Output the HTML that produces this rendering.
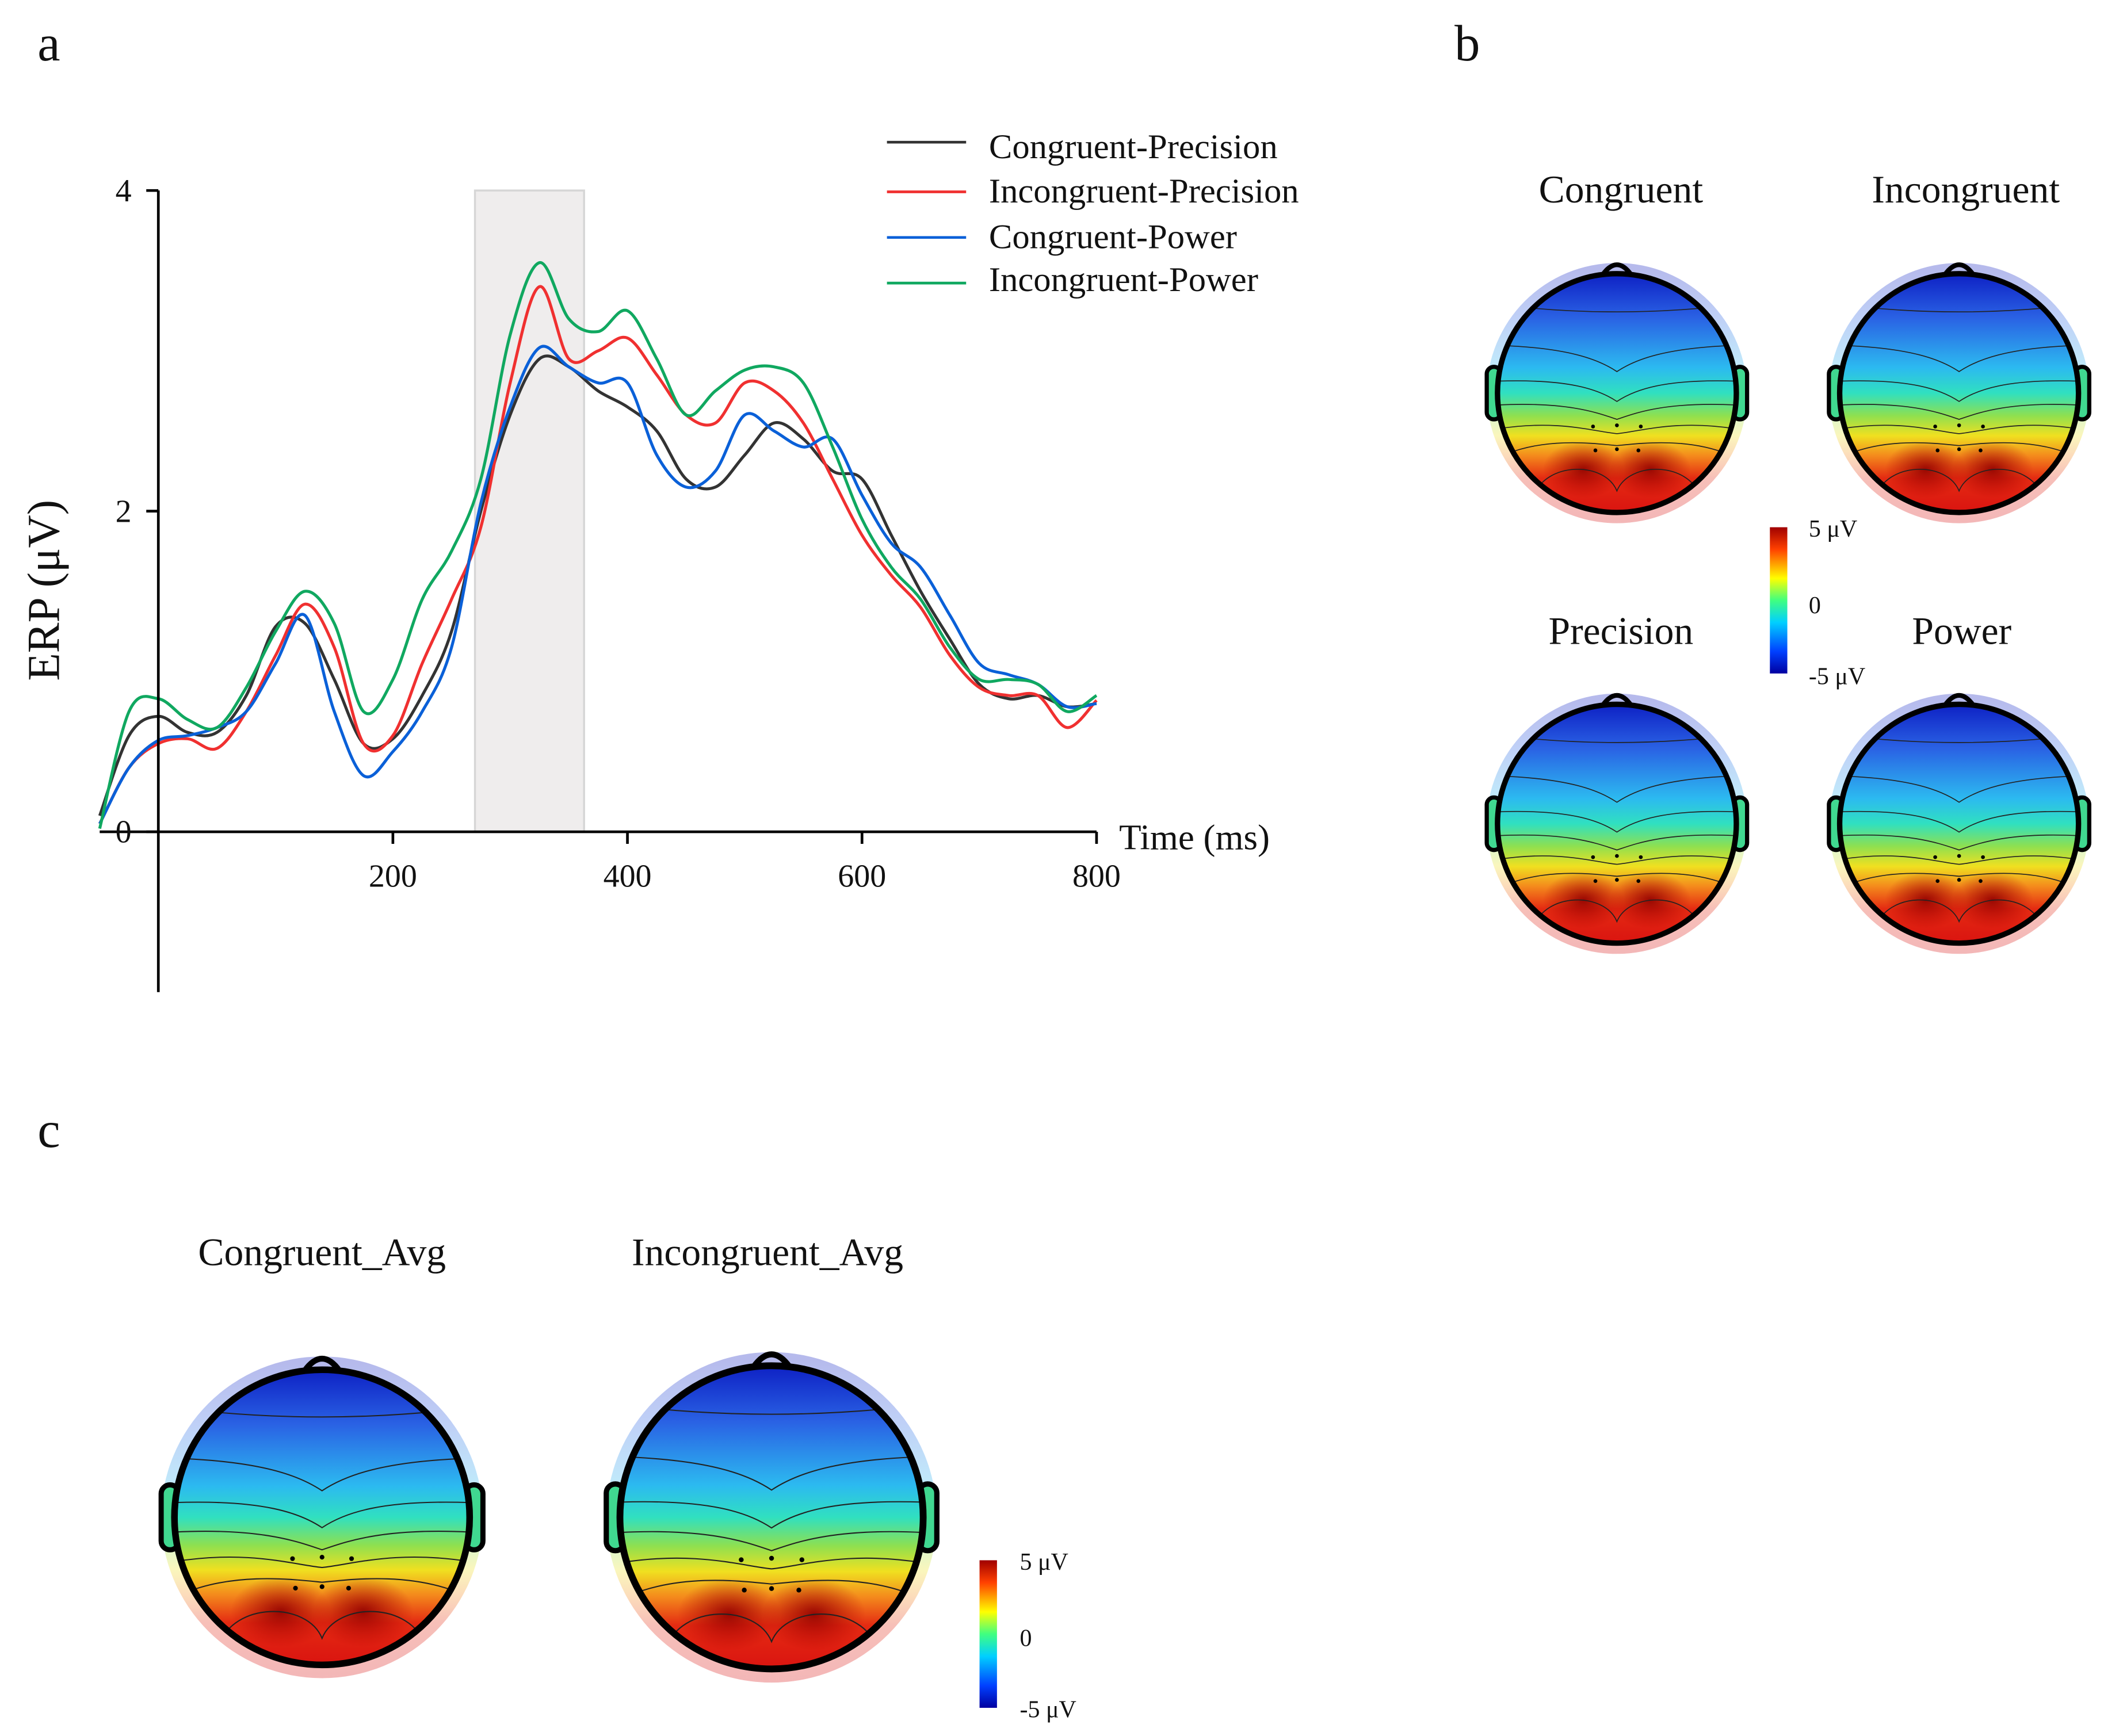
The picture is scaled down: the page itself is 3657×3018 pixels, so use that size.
<!DOCTYPE html>
<html><head><meta charset="utf-8"><style>
html,body{margin:0;padding:0;background:#fff;}
svg{display:block;}
text{font-family:"Liberation Serif",serif;fill:#111;}
</style></head><body>
<svg id="root" width="3657" height="3018" viewBox="0 0 1568 1294" preserveAspectRatio="none" xmlns="http://www.w3.org/2000/svg">
<defs>
<linearGradient id="tg" x1="0" y1="-105" x2="0" y2="105" gradientUnits="userSpaceOnUse">
<stop offset="0" stop-color="#0a18c0"/><stop offset="0.2" stop-color="#2a62e4"/>
<stop offset="0.4" stop-color="#2cbaf0"/><stop offset="0.5" stop-color="#30e0c0"/>
<stop offset="0.59" stop-color="#8ee050"/><stop offset="0.67" stop-color="#f0e020"/>
<stop offset="0.75" stop-color="#f48a1c"/><stop offset="0.84" stop-color="#e42a12"/>
<stop offset="1" stop-color="#d81010"/></linearGradient>
<radialGradient id="halo"><stop offset="0.9" stop-color="#dceefa"/><stop offset="1" stop-color="#eef6fc"/></radialGradient>
<linearGradient id="cb" x1="0" y1="1" x2="0" y2="0">
<stop offset="0" stop-color="#0000a0"/><stop offset="0.15" stop-color="#0040ff"/>
<stop offset="0.35" stop-color="#00d0ff"/><stop offset="0.5" stop-color="#40ff80"/>
<stop offset="0.65" stop-color="#ffff00"/><stop offset="0.85" stop-color="#ff4000"/>
<stop offset="1" stop-color="#a00000"/></linearGradient>
<radialGradient id="blob"><stop offset="0" stop-color="#900000" stop-opacity="0.9"/><stop offset="1" stop-color="#b00000" stop-opacity="0"/></radialGradient>
<clipPath id="hc"><circle cx="0" cy="0" r="100"/></clipPath>
<g id="topo">
<circle cx="0" cy="0" r="109" fill="url(#tg)" opacity="0.3"/>
<path d="M-12,-99 Q0,-116 12,-99" fill="none" stroke="#000" stroke-width="4"/>
<rect x="-109" y="-22" width="12" height="44" rx="6" fill="#40d890" stroke="#000" stroke-width="3.5"/>
<rect x="97" y="-22" width="12" height="44" rx="6" fill="#40d890" stroke="#000" stroke-width="3.5"/>
<g clip-path="url(#hc)">
<rect x="-100" y="-100" width="200" height="200" fill="url(#tg)"/>
<ellipse cx="-28" cy="64" rx="34" ry="24" fill="url(#blob)"/>
<ellipse cx="28" cy="64" rx="34" ry="24" fill="url(#blob)"/>
<g fill="none" stroke="#222" stroke-width="0.8">
<path d="M-80,-72 Q0,-64 80,-72"/>
<path d="M-100,-40 C-40,-38 -15,-28 0,-18 C15,-28 40,-38 100,-40"/>
<path d="M-100,-10 C-40,-12 -15,-3 0,7 C15,-3 40,-12 100,-10"/>
<path d="M-100,10 C-40,7 -15,17 0,22 C15,17 40,7 100,10"/>
<path d="M-100,30 C-50,22 -20,32 0,34 C20,32 50,22 100,30"/>
<path d="M-95,52 C-60,37 -20,42 0,44 C20,42 60,37 95,52"/>
<path d="M-70,87 C-60,57 -10,57 0,82 C10,57 60,57 70,87"/>
</g>
<g fill="#000"><circle cx="-20" cy="28" r="1.6"/><circle cx="0" cy="27" r="1.6"/><circle cx="20" cy="28" r="1.6"/>
<circle cx="-18" cy="48" r="1.6"/><circle cx="0" cy="47" r="1.6"/><circle cx="18" cy="48" r="1.6"/></g>
</g>
<circle cx="0" cy="0" r="100" fill="none" stroke="#000" stroke-width="4.5"/>
</g>
</defs>

<text x="28" y="45" font-size="38">a</text>
<text x="1084" y="45" font-size="38">b</text>
<text x="28" y="855" font-size="38">c</text>

<g id="chart">
<rect id="shade" fill="#efeded" stroke="#d6d6d6" stroke-width="1.5"/>
<g id="lines"></g>
<g id="axes"></g>
<text transform="translate(44,440) rotate(-90)" text-anchor="middle" font-size="34">ERP (μV)</text>
<text x="834" y="633" font-size="27">Time (ms)</text>
</g>

<g font-size="26">
<g><line x1="661" y1="106" x2="720" y2="106" stroke="#333" stroke-width="2"/><text x="737" y="118">Congruent-Precision</text></g>
<g><line x1="661" y1="143" x2="720" y2="143" stroke="#f03030" stroke-width="2"/><text x="737" y="151">Incongruent-Precision</text></g>
<g><line x1="661" y1="177" x2="720" y2="177" stroke="#0a60d8" stroke-width="2"/><text x="737" y="185">Congruent-Power</text></g>
<g><line x1="661" y1="211" x2="720" y2="211" stroke="#10a860" stroke-width="2"/><text x="737" y="217">Incongruent-Power</text></g>
</g>

<g font-size="29" text-anchor="middle">
<text x="1208" y="151">Congruent</text>
<text x="1465" y="151">Incongruent</text>
<text x="1208" y="480">Precision</text>
<text x="1462" y="480">Power</text>
<use href="#topo" transform="translate(1205,293) scale(0.89)"/>
<use href="#topo" transform="translate(1460,293) scale(0.89)"/>
<use href="#topo" transform="translate(1205,614) scale(0.89)"/>
<use href="#topo" transform="translate(1460,614) scale(0.89)"/>
<rect x="1319" y="393" width="13" height="109" fill="url(#cb)"/>
<text x="1348" y="400" font-size="18" text-anchor="start">5 μV</text>
<text x="1348" y="457" font-size="18" text-anchor="start">0</text>
<text x="1348" y="510" font-size="18" text-anchor="start">-5 μV</text>
</g>

<g font-size="29" text-anchor="middle">
<text x="240" y="943">Congruent_Avg</text>
<text x="572" y="943">Incongruent_Avg</text>
<use href="#topo" transform="translate(240,1131) scale(1.1)"/>
<use href="#topo" transform="translate(575,1131) scale(1.13)"/>
<rect x="730" y="1163" width="13" height="110" fill="url(#cb)"/>
<text x="760" y="1170" font-size="18" text-anchor="start">5 μV</text>
<text x="760" y="1227" font-size="18" text-anchor="start">0</text>
<text x="760" y="1280" font-size="18" text-anchor="start">-5 μV</text>
</g>
</svg>
<script>
const times = [-50,-25,0,25,50,75,100,125,150,175,200,225,250,275,300,325,350,375,400,425,450,475,500,525,550,575,600,625,650,675,700,725,750,775,800];
const congruentPrecision = [0.1,0.6,0.72,0.62,0.62,0.85,1.28,1.3,0.95,0.55,0.58,0.85,1.25,2.0,2.6,2.95,2.9,2.75,2.65,2.5,2.2,2.15,2.35,2.55,2.45,2.25,2.2,1.85,1.5,1.2,0.92,0.83,0.85,0.78,0.8];
const incongruentPrecision = [0.05,0.4,0.55,0.58,0.52,0.75,1.1,1.42,1.15,0.55,0.6,1.05,1.45,1.9,2.8,3.4,2.95,3.0,3.08,2.85,2.6,2.55,2.8,2.75,2.55,2.2,1.85,1.6,1.4,1.1,0.9,0.85,0.85,0.65,0.82];
const congruentPower = [0.05,0.4,0.57,0.6,0.65,0.75,1.05,1.35,0.75,0.35,0.5,0.75,1.15,2.05,2.65,3.02,2.9,2.8,2.8,2.35,2.15,2.25,2.6,2.5,2.4,2.45,2.1,1.8,1.65,1.35,1.05,0.98,0.92,0.78,0.8];
const incongruentPower = [0.02,0.75,0.83,0.7,0.65,0.9,1.25,1.5,1.3,0.75,0.95,1.45,1.75,2.2,3.1,3.55,3.2,3.12,3.25,2.95,2.6,2.75,2.88,2.9,2.8,2.4,1.95,1.65,1.45,1.15,0.95,0.95,0.92,0.75,0.85];
const xTicks = [200,400,600,800];
const yTicks = [0,2,4];
const windowRange = [270,363];

const NS="http://www.w3.org/2000/svg";
const X = t => 118 + t*0.874;
const Y = v => 620 - v*119.5;
function mk(tag, attrs, parent){const e=document.createElementNS(NS,tag);for(const k in attrs)e.setAttribute(k,attrs[k]);parent.appendChild(e);return e;}
const shade=document.getElementById('shade');
shade.setAttribute('x',X(windowRange[0]));shade.setAttribute('width',X(windowRange[1])-X(windowRange[0]));
shade.setAttribute('y',Y(4));shade.setAttribute('height',Y(0)-Y(4));
const axes=document.getElementById('axes');
const ya=mk('line',{x1:X(0),x2:X(0),y1:Y(4),y2:Y(-1),stroke:'#000','stroke-width':2},axes);


const xa=mk('line',{x1:X(-50),x2:X(800),y1:Y(0),y2:Y(0),stroke:'#000','stroke-width':2},axes);


xTicks.forEach(t=>{
  mk('line',{x1:X(t),x2:X(t),y1:Y(0),y2:Y(0)+9,stroke:'#000','stroke-width':2},axes);
  const tx=mk('text',{x:X(t),y:Y(0)+41,'text-anchor':'middle','font-size':24},axes);
  tx.textContent=t;
  
  
});
yTicks.forEach(v=>{
  mk('line',{x1:X(0)-9,x2:X(0),y1:Y(v),y2:Y(v),stroke:'#000','stroke-width':2},axes);
  const tx=mk('text',{x:X(0)-20,y:Y(v)+8,'text-anchor':'end','font-size':24},axes);
  tx.textContent=v;
  
  
});
function smooth(vals){
  const p=vals.map((v,i)=>[X(times[i]),Y(v)]);
  let d='M'+p[0][0]+','+p[0][1];
  for(let i=0;i<p.length-1;i++){
    const p0=p[i-1]||p[i],p1=p[i],p2=p[i+1],p3=p[i+2]||p2;
    const c1=[p1[0]+(p2[0]-p0[0])/6,p1[1]+(p2[1]-p0[1])/6];
    const c2=[p2[0]-(p3[0]-p1[0])/6,p2[1]-(p3[1]-p1[1])/6];
    d+=' C'+c1+' '+c2+' '+p2;
  }
  return d;
}
const lines=document.getElementById('lines');
[[congruentPrecision,'#333','line-congruent-precision'],[incongruentPrecision,'#f03030','line-incongruent-precision'],[congruentPower,'#0a60d8','line-congruent-power'],[incongruentPower,'#10a860','line-incongruent-power']].forEach(s=>{
  const p=mk('path',{d:smooth(s[0]),fill:'none',stroke:s[1],'stroke-width':2.2},lines);
  
  
});
</script>
</body></html>
